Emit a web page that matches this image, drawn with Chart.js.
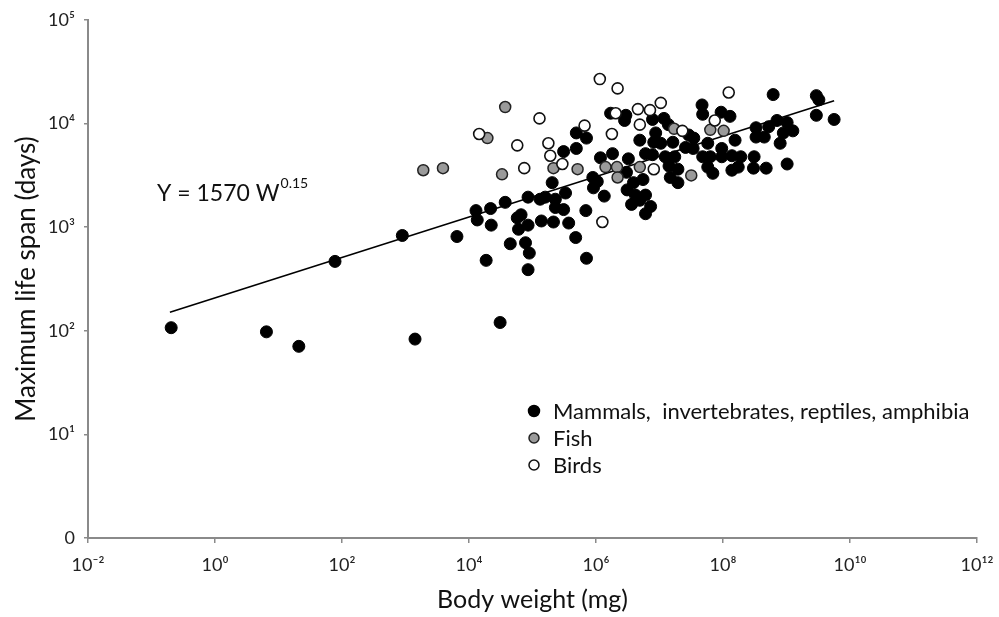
<!DOCTYPE html>
<html><head><meta charset="utf-8">
<script src="https://cdn.jsdelivr.net/npm/chart.js@4/dist/chart.umd.min.js"></script>
<style>html,body{margin:0;padding:0;background:#fff}#wrap{width:999px;height:617px;position:relative}</style>
</head><body><div id="wrap"><canvas id="c" width="999" height="617"></canvas></div>
<script>
// Tick exponents (powers of ten)
const xTickExponents = [-2, 0, 2, 4, 6, 8, 10, 12];
const yTickExponents = [0, 1, 2, 3, 4, 5];

// Values, stored as log10 (body weight in mg, life span in days)
const mammalsLogWeight = [-0.69,0.81,1.32,1.89,2.95,3.15,3.81,4.27,4.49,4.11,
 4.13,4.34,4.35,4.57,4.65,4.76,4.82,4.78,4.89,4.95,
 4.93,4.93,4.93,5.12,5.20,5.14,5.36,5.33,5.36,5.49,
 5.52,5.57,5.31,5.49,5.69,5.69,5.85,5.68,5.84,5.85,
 5.95,6.02,5.96,6.13,6.07,6.26,6.23,6.47,6.45,6.89,
 7.07,7.14,6.94,6.69,6.91,7.02,7.21,6.51,6.78,6.89,
 6.48,6.59,6.74,6.49,6.62,6.78,6.69,6.56,6.86,6.78,
 7.09,7.24,7.15,7.29,7.17,7.29,7.67,7.68,7.97,8.11,
 7.46,7.54,7.41,7.53,7.76,8.19,7.98,7.68,7.80,7.98,
 8.14,8.28,8.49,7.76,7.84,8.14,8.24,8.48,8.68,9.01,
 8.52,8.52,8.65,8.72,8.85,9.01,8.95,9.10,8.90,8.79,
 9.47,9.51,9.47,9.75];
const mammalsLogLifespan = [2.03,1.99,1.85,2.67,2.92,1.92,2.91,2.68,2.08,3.16,
 3.07,3.18,3.02,3.24,2.84,3.09,3.12,2.98,2.85,2.75,
 2.59,3.29,3.02,3.27,3.29,3.06,3.27,3.05,3.19,3.17,
 3.33,3.04,3.43,3.73,3.76,3.91,3.86,2.90,3.16,2.70,
 3.48,3.44,3.38,3.30,3.67,3.71,4.10,4.08,4.03,4.04,
 4.05,3.99,3.91,3.84,3.82,3.81,3.82,3.66,3.71,3.70,
 3.53,3.43,3.46,3.36,3.31,3.31,3.26,3.22,3.20,3.13,
 3.68,3.68,3.59,3.56,3.48,3.43,4.18,4.09,4.11,4.07,
 3.89,3.86,3.77,3.76,3.81,3.84,3.76,3.68,3.68,3.68,
 3.69,3.68,3.68,3.58,3.52,3.55,3.58,3.57,3.57,3.61,
 3.96,3.87,3.87,3.97,4.03,4.01,3.91,3.93,3.81,4.28,
 4.27,4.23,4.08,4.04];

const fishLogWeight = [3.28,3.59,4.29,4.57,4.52,5.33,5.71,6.15,6.33,6.34,6.69,7.23,7.80,8.01,7.50];
const fishLogLifespan = [3.55,3.57,3.86,4.16,3.51,3.57,3.56,3.58,3.58,3.48,3.58,3.95,3.94,3.93,3.50];

const birdsLogWeight = [6.06,6.34,5.11,4.16,4.76,5.25,5.28,5.47,4.87,5.82,6.25,6.31,6.66,6.69,6.85,7.02,6.91,6.10,8.09,7.87,7.36];
const birdsLogLifespan = [4.43,4.34,4.05,3.90,3.79,3.81,3.69,3.61,3.57,3.98,3.90,4.10,4.14,3.99,4.13,4.20,3.56,3.05,4.30,4.03,3.93];

// Fitted line as drawn (end points)
const trendLogWeight = [-0.71, 9.75];
const trendLogLifespan = [2.18, 4.22];

const seriesNames = ['Mammals,  invertebrates, reptiles, amphibia', 'Fish', 'Birds'];
const equationMain = 'Y = 1570 W';
const equationExp = '0.15';
const xTitle = 'Body weight (mg)';
const yTitle = 'Maximum life span (days)';

const FONT = "Lato, 'Open Sans', 'Noto Sans', sans-serif";
const toPts = (lw, ly) => lw.map((w, i) => ({x: Math.pow(10, w), y: Math.pow(10, ly[i])}));
const SUP = {'-':'\u207B','0':'\u2070','1':'\u00B9','2':'\u00B2','3':'\u00B3','4':'\u2074','5':'\u2075','6':'\u2076','7':'\u2077','8':'\u2078','9':'\u2079'};
const sup = n => String(n).split('').map(c => SUP[c]).join('');

const legendStyles = [
  {fill:'#000', stroke:'#000', r:5.5},
  {fill:'#9a9a9a', stroke:'#222', r:5},
  {fill:'#fff', stroke:'#111', r:5}
];

const annotPlugin = {
  id: 'annot',
  afterDraw(chart) {
    const ctx = chart.ctx;
    ctx.save();
    ctx.fillStyle = '#111';
    ctx.textBaseline = 'middle';
    ctx.textAlign = 'left';
    ctx.font = '23px ' + FONT;
    const ex = 157, ey = 194;
    ctx.fillText(equationMain, ex, ey);
    const w = ctx.measureText(equationMain).width;
    ctx.font = '14px ' + FONT;
    ctx.fillText(equationExp, ex + w + 1, ey - 11);
    // legend
    const lx = 534, ly = [411, 438, 465];
    ctx.font = '22px ' + FONT;
    seriesNames.forEach((n, i) => {
      const s = legendStyles[i];
      ctx.beginPath();
      ctx.arc(lx, ly[i], s.r, 0, Math.PI * 2);
      ctx.fillStyle = s.fill; ctx.fill();
      ctx.lineWidth = 1.5; ctx.strokeStyle = s.stroke; ctx.stroke();
      ctx.fillStyle = '#111';
      ctx.fillText(n, 553, ly[i] + 1);
    });
    ctx.restore();
  }
};

new Chart(document.getElementById('c'), {
  type: 'scatter',
  data: {
    datasets: [
      {label: 'Fit', type: 'line', data: toPts(trendLogWeight, trendLogLifespan), borderColor: '#000', borderWidth: 1.6, pointRadius: 0, fill: false, order: 10},
      {label: seriesNames[0], data: toPts(mammalsLogWeight, mammalsLogLifespan), backgroundColor: '#000', borderColor: '#000', borderWidth: 1, pointRadius: 6, order: 3},
      {label: seriesNames[1], data: toPts(fishLogWeight, fishLogLifespan), backgroundColor: '#9a9a9a', borderColor: '#222', borderWidth: 1.5, pointRadius: 5.5, order: 2},
      {label: seriesNames[2], data: toPts(birdsLogWeight, birdsLogLifespan), backgroundColor: '#fff', borderColor: '#111', borderWidth: 1.6, pointRadius: 5.5, order: 1}
    ]
  },
  options: {
    responsive: false, animation: false, devicePixelRatio: 1,
    layout: {padding: {top: 20, right: 22, left: 0, bottom: 0}},
    plugins: {legend: {display: false}, tooltip: {enabled: false}},
    scales: {
      x: {
        type: 'logarithmic', min: 1e-2, max: 1e12,
        afterBuildTicks: s => { s.ticks = xTickExponents.map(e => ({value: Math.pow(10, e)})); },
        afterFit: s => { s.height = 79; s.paddingRight = 0; s.paddingLeft = 0; },
        ticks: {autoSkip: false, maxRotation: 0, padding: 11, color: '#222', font: {family: FONT, size: 18},
          callback: v => '10' + sup(Math.round(Math.log10(v)))},
        grid: {drawOnChartArea: false, drawTicks: true, tickLength: 5, color: '#8a8a8a', lineWidth: 1.5},
        border: {color: '#8a8a8a', width: 2},
        title: {display: true, text: xTitle, color: '#111', font: {family: FONT, size: 25}, padding: {top: 0, bottom: 2}}
      },
      y: {
        type: 'logarithmic', min: 1, max: 1e5,
        afterBuildTicks: s => { s.ticks = yTickExponents.map(e => ({value: Math.pow(10, e)})); },
        afterFit: s => { s.width = 88; s.paddingTop = 0; s.paddingBottom = 0; },
        ticks: {autoSkip: false, padding: 9, color: '#222', font: {family: FONT, size: 18},
          callback: v => { const e = Math.round(Math.log10(v)); return e === 0 ? '0' : '10' + sup(e); }},
        grid: {drawOnChartArea: false, drawTicks: true, tickLength: 4, color: '#8a8a8a', lineWidth: 1.5},
        border: {color: '#8a8a8a', width: 2},
        title: {display: true, text: yTitle, color: '#111', font: {family: FONT, size: 26}, padding: {top: 11, bottom: 0}}
      }
    }
  },
  plugins: [annotPlugin]
});
</script></body></html>
